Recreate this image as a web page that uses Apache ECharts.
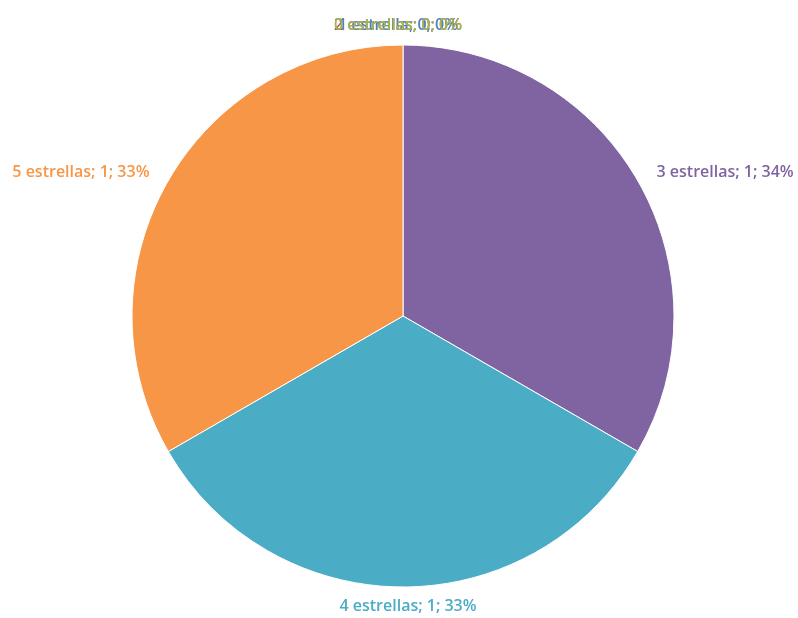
<!DOCTYPE html>
<html><head><meta charset="utf-8">
<script src="https://cdn.jsdelivr.net/npm/echarts@6/dist/echarts.min.js"></script>
<style>html,body{margin:0;padding:0;background:#fff}#c{width:798px;height:618px}</style>
</head><body><div id="c"></div>
<script>
const categories = ['1 estrella', '2 estrellas', '0 estrellas', '3 estrellas', '4 estrellas', '5 estrellas'];
const values = [0, 0, 0, 1, 1, 1];
const colors = ['#4F81BD', '#C0504D', '#9BBB59', '#8064A2', '#4BACC6', '#F79646'];

const chart = echarts.init(document.getElementById('c'));
chart.setOption({
  animation: false,
  series: [{
    type: 'pie',
    center: [403, 316],
    radius: 271,
    startAngle: 90,
    clockwise: true,
    avoidLabelOverlap: false,
    percentPrecision: 0,
    minShowLabelAngle: 0,
    data: categories.map((n, i) => ({ name: n, value: values[i], itemStyle: { color: colors[i] }, label: { color: colors[i] } })),
    itemStyle: { borderColor: '#fff', borderWidth: 1 },
    label: {
      show: true,
      position: 'outside',
      formatter: '{b}; {c}; {d}%',
      fontFamily: 'Open Sans',
      fontWeight: 600,
      fontSize: 16
    },
    labelLine: { show: false, length: 16, length2: 0 },
    labelLayout: function (p) {
      if (values[p.dataIndex] === 0) return { align: 'center', dy: -4 };
      if (p.dataIndex === 4) return { align: 'center', dy: 3 };
      return {};
    }
  }]
});
</script></body></html>
